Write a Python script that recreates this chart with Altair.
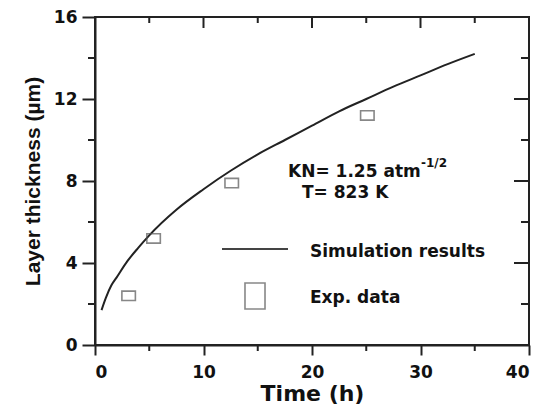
import altair as alt
import pandas as pd

# Simulation curve
sim_t = [0.6, 1.0, 1.5, 2.0, 3.0, 4.0, 5.0, 7.5, 10.0, 12.5, 15.0, 17.5, 20.0, 22.5, 25.0, 27.5, 30.0, 32.5, 35.0]
sim_y = [1.7, 2.3, 2.9, 3.3, 4.1, 4.75, 5.35, 6.6, 7.6, 8.5, 9.3, 10.0, 10.7, 11.4, 12.0, 12.6, 13.15, 13.7, 14.2]

# Experimental data
exp_t = [3.1, 5.4, 12.6, 25.1]
exp_y = [2.4, 5.2, 7.9, 11.2]

x_major = [0, 10, 20, 30, 40]
x_minor = [5, 15, 25, 35]
y_major = [0, 4, 8, 12, 16]
y_minor = [2, 6, 10, 14]

W, H = 434, 328
FONT = "DejaVu Sans"
INK = "#111111"

xs = alt.Scale(domain=[0, 40], nice=False, zero=False)
ys = alt.Scale(domain=[0, 16], nice=False, zero=False)

sim_df = pd.DataFrame({"t": sim_t, "y": sim_y})
exp_df = pd.DataFrame({"t": exp_t, "y": exp_y})

line = alt.Chart(sim_df).mark_line(color="#222222", strokeWidth=2, interpolate="monotone").encode(
    x=alt.X("t:Q", scale=xs,
            axis=alt.Axis(values=x_major, title="Time (h)", tickSize=10, tickWidth=2,
                          domainWidth=2, labelPadding=9, titlePadding=3,
                          titleFontSize=22, grid=False, format="d")),
    y=alt.Y("y:Q", scale=ys,
            axis=alt.Axis(values=y_major, title="Layer thickness (µm)", tickSize=13, tickWidth=2,
                          domainWidth=2, labelPadding=5, titlePadding=10,
                          titleFont="Liberation Sans", titleFontSize=21, grid=False, format="d")),
)

pts = alt.Chart(exp_df).mark_point(
    shape="M-1,-0.7H1V0.7H-1Z", size=182, filled=False, stroke="#555555", strokeWidth=1.6
).encode(x=alt.X("t:Q", scale=xs), y=alt.Y("y:Q", scale=ys))

def xticks(vals, y0, y1):
    return alt.Chart(pd.DataFrame({"v": vals})).mark_rule(color="#222222", strokeWidth=2).encode(
        x=alt.X("v:Q", scale=xs), y=alt.value(y0), y2=alt.value(y1))

def yticks(vals, x0, x1):
    return alt.Chart(pd.DataFrame({"v": vals})).mark_rule(color="#222222", strokeWidth=2).encode(
        y=alt.Y("v:Q", scale=ys), x=alt.value(x0), x2=alt.value(x1))

ticks = [
    xticks(x_minor, H, H + 6),      # bottom minor (outward)
    xticks(x_major, 0, 11),         # top major (inward)
    xticks(x_minor, 0, 6),          # top minor (inward)
    yticks(y_minor, 0, -7),         # left minor (outward)
    yticks(y_major, W, W - 15),     # right major (inward)
    yticks(y_minor, W, W - 8),      # right minor (inward)
]

one = pd.DataFrame({"a": [0]})

def label(txt, x, y, size=17):
    return alt.Chart(one).mark_text(
        text=txt, font=FONT, fontWeight="bold", fontSize=size, color=INK,
        align="left", baseline="middle"
    ).encode(x=alt.value(x), y=alt.value(y))

texts = [
    label("KN= 1.25 atm", 193, 155),
    label("-1/2", 326, 146, size=12),
    label("T= 823 K", 207, 176),
    label("Simulation results", 215, 235),
    label("Exp. data", 215, 281),
]

leg_line = alt.Chart(one).mark_rule(color="#444444", strokeWidth=2).encode(
    x=alt.value(127), x2=alt.value(193), y=alt.value(232))
leg_rect = alt.Chart(one).mark_point(
    shape="M-0.77,-1H0.77V1H-0.77Z", size=676, filled=False, stroke="#555555", strokeWidth=1.6
).encode(x=alt.value(160), y=alt.value(279))

chart = alt.layer(line, pts, *ticks, leg_line, leg_rect, *texts).properties(
    width=W, height=H,
    autosize=alt.AutoSizeParams(type="none"),
    padding={"left": 95, "top": 17, "right": 18, "bottom": 61},
).configure_view(
    stroke="#222222", strokeWidth=2
).configure_axis(
    labelFont=FONT, labelFontWeight="bold", labelFontSize=17, labelColor=INK,
    titleFont=FONT, titleFontWeight="bold", titleColor=INK,
    domainColor="#222222", tickColor="#222222",
)

chart.save("out.html", embed_options={"renderer": "svg", "actions": False})
